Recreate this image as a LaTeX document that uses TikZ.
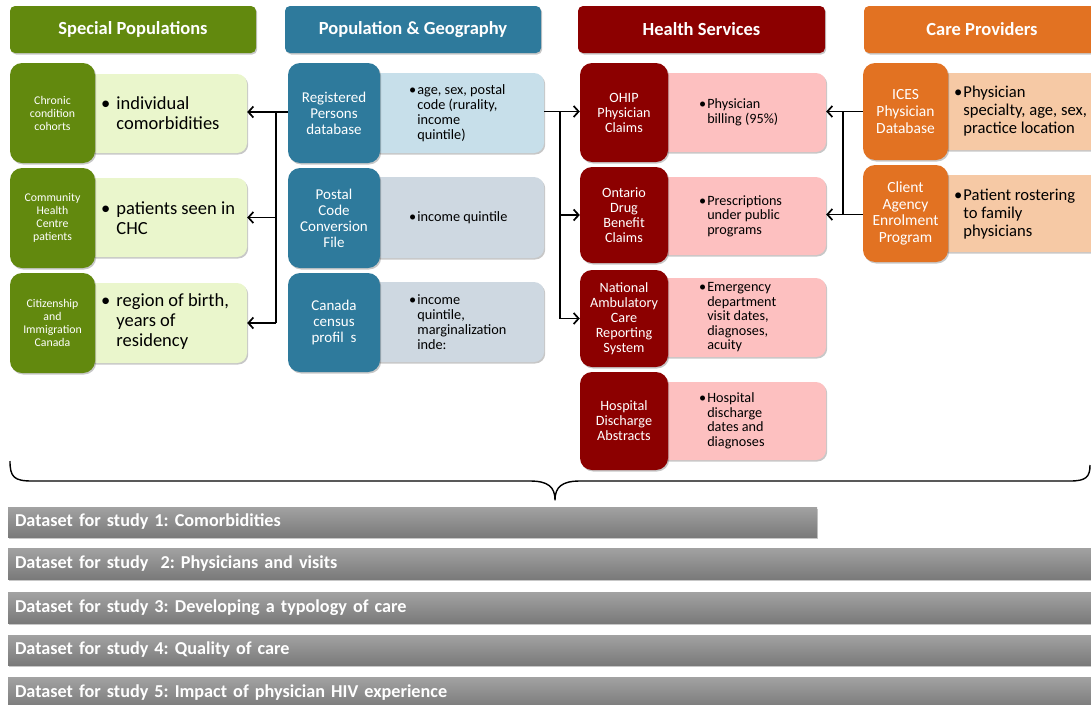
\documentclass[tikz,border=0pt]{standalone}
\usepackage{fontspec}
\setmainfont{Carlito}
\usetikzlibrary{arrows.meta,shadows}
\definecolor{spdark}{RGB}{98,137,14}
\definecolor{splight}{RGB}{234,246,204}
\definecolor{pgdark}{RGB}{46,122,156}
\definecolor{pglightA}{RGB}{199,223,234}
\definecolor{pglightB}{RGB}{206,216,225}
\definecolor{hsdark}{RGB}{140,0,0}
\definecolor{hslight}{RGB}{253,192,192}
\definecolor{cpdark}{RGB}{226,114,34}
\definecolor{cplight}{RGB}{246,201,165}
\definecolor{bartop}{RGB}{162,162,162}
\definecolor{barbot}{RGB}{122,122,122}
\newcommand\bul[3]{\textbullet\hspace{#1}\parbox[t]{#2}{\raggedright #3}}
\frenchspacing
\begin{document}
\frenchspacing
\begin{tikzpicture}[x=1pt,y=-1pt,
  shd/.style={drop shadow={shadow xshift=1.2pt,shadow yshift=-1.5pt,opacity=0.22,fill=black}},
  hdr/.style={rounded corners=5pt,text=white,font=\fontsize{18.5}{21}\selectfont\bfseries,inner sep=0pt,minimum height=47pt,shd},
  dk/.style={rounded corners=12pt,text=white,align=center,inner sep=0pt,shd},
  lt/.style={rounded corners=10pt,inner sep=0pt,shd},
  txt/.style={anchor=west,inner sep=0pt,align=left},
  conn/.style={line width=1.7pt,draw=black},
  arr/.style={conn,-{Straight Barb[length=5pt,width=11pt]}},
  bar/.style={top color=bartop,bottom color=barbot,draw=none,inner sep=0pt,inner xsep=7pt,
     text=white,font=\fontsize{18.2}{20}\selectfont\bfseries\frenchspacing,align=left,shd},
  f1/.style={font=\fontsize{11.8}{13}\selectfont},
  f2/.style={font=\fontsize{15}{16}\selectfont},
  f3/.style={font=\fontsize{14.2}{15}\selectfont},
  f4/.style={font=\fontsize{15.5}{16.8}\selectfont}
]
\useasboundingbox (0,0) rectangle (1091,704);
\clip (0,0) rectangle (1091,704);

% headers
\node[hdr,fill=spdark,minimum width=246pt] (hsp) at (133,29.5) {Special Populations};
\node[hdr,fill=pgdark,minimum width=256pt] (hpg) at (413,29.5) {Population \& Geography};
\node[hdr,fill=hsdark,minimum width=247pt] (hhs) at (701.5,29.5) {Health Services};
\node[hdr,fill=cpdark,minimum width=236pt] (hcp) at (982,29.5) {Care Providers};

% column 1 light
\node[lt,fill=splight,minimum width=162pt,minimum height=79pt] (sl1) at (166,113.5) {};
\node[lt,fill=splight,minimum width=162pt,minimum height=79pt] (sl2) at (166,217.5) {};
\node[lt,fill=splight,minimum width=162pt,minimum height=80pt] (sl3) at (166,323) {};
% column 1 dark
\node[dk,fill=spdark,f1,minimum width=85pt,minimum height=100pt] (sd1) at (52.5,113) {Chronic\\condition\\cohorts};
\node[dk,fill=spdark,f1,minimum width=85pt,minimum height=100pt] (sd2) at (52.5,218) {Community\\Health\\Centre\\patients};
\node[dk,fill=spdark,f1,minimum width=85pt,minimum height=100pt] (sd3) at (52.5,323) {Citizenship\\and\\Immigration\\Canada};
\begin{scope}[font=\fontsize{18.5}{20}\selectfont]
\node[txt] (st1) at (101,113.5) {\bul{6pt}{130pt}{individual\\comorbidities}};
\node[txt] (st2) at (101,218) {\bul{6pt}{130pt}{patients seen in\\CHC}};
\node[txt] (st3) at (101,322) {\bul{6pt}{130pt}{region of birth,\\years of\\residency}};
\end{scope}

% column 2 light
\node[lt,fill=pglightA,minimum width=174pt,minimum height=80pt] (pl1) at (457,113) {};
\node[lt,fill=pglightB,minimum width=174pt,minimum height=81pt] (pl2) at (457,217.5) {};
\node[lt,fill=pglightB,minimum width=174pt,minimum height=80pt] (pl3) at (457,322) {};
% column 2 dark
\node[dk,fill=pgdark,f2,minimum width=92pt,minimum height=100pt] (pd1) at (334,113) {Registered\\Persons\\database};
\node[dk,fill=pgdark,f2,minimum width=92pt,minimum height=100pt] (pd2) at (334,218) {Postal\\Code\\Conversion\\File};
\node[dk,fill=pgdark,f2,minimum width=92pt,minimum height=99pt] (pd3) at (334,322.5) {Canada\\census\\profil\ \ s};
\begin{scope}[font=\fontsize{14.3}{15}\selectfont]
\node[txt] (pt1) at (409,113) {\bul{1pt}{120pt}{age, sex, postal\\code (rurality,\\income\\quintile)}};
\node[txt] (pt2) at (409,217.5) {\bul{1pt}{120pt}{income quintile}};
\node[txt] (pt3) at (409,322) {\bul{1pt}{120pt}{income\\quintile,\\marginalization\\inde:}};
\end{scope}

% column 3 light
\node[lt,fill=hslight,minimum width=168pt,minimum height=79pt] (hl1) at (742,112.5) {};
\node[lt,fill=hslight,minimum width=168pt,minimum height=78pt] (hl2) at (742,216) {};
\node[lt,fill=hslight,minimum width=168pt,minimum height=79pt] (hl3) at (742,317.5) {};
\node[lt,fill=hslight,minimum width=168pt,minimum height=78pt] (hl4) at (742,421) {};
% column 3 dark
\node[dk,fill=hsdark,f3,minimum width=88pt,minimum height=99pt] (hd1) at (624,112.5) {OHIP\\Physician\\Claims};
\node[dk,fill=hsdark,f3,minimum width=88pt,minimum height=96pt] (hd2) at (624,215) {Ontario\\Drug\\Benefit\\Claims};
\node[dk,fill=hsdark,f3,minimum width=88pt,minimum height=97pt] (hd3) at (624,318.5) {National\\Ambulatory\\Care\\Reporting\\System};
\node[dk,fill=hsdark,f3,minimum width=88pt,minimum height=98pt] (hd4) at (624,421) {Hospital\\Discharge\\Abstracts};
\begin{scope}[font=\fontsize{14.2}{14.5}\selectfont]
\node[txt] (ht1) at (699,112.5) {\bul{1pt}{115pt}{Physician\\billing (95\%)}};
\node[txt] (ht2) at (699,216) {\bul{1pt}{115pt}{Prescriptions\\under public\\programs}};
\node[txt] (ht3) at (699,317.5) {\bul{1pt}{115pt}{Emergency\\department\\visit dates,\\diagnoses,\\acuity}};
\node[txt] (ht4) at (699,421) {\bul{1pt}{115pt}{Hospital\\discharge\\dates and\\diagnoses}};
\end{scope}

% column 4 light
\node[lt,fill=cplight,minimum width=162pt,minimum height=77pt] (cl1) at (1019,111.5) {};
\node[lt,fill=cplight,minimum width=162pt,minimum height=77pt] (cl2) at (1019,213.5) {};
% column 4 dark
\node[dk,fill=cpdark,f4,minimum width=85pt,minimum height=97pt] (cd1) at (905.5,111.5) {ICES\\Physician\\Database};
\node[dk,fill=cpdark,f4,minimum width=85pt,minimum height=97pt] (cd2) at (905.5,213.5) {Client\\Agency\\Enrolment\\Program};
\begin{scope}[font=\fontsize{16.6}{18}\selectfont]
\node[txt] (ct1) at (954,111.5) {\bul{1pt}{160pt}{Physician\\specialty, age, sex,\\practice location}};
\node[txt] (ct2) at (954,214.5) {\bul{1pt}{160pt}{Patient rostering\\to family\\physicians}};
\end{scope}

% connectors: Registered Persons -> special populations
\coordinate (jl) at (276,112);
\draw[conn] (pd1.west |- jl) -- (jl);
\draw[conn] (jl) -- (jl |- sl3.east);
\draw[arr] (jl) -- (sl1.east |- jl);
\draw[arr] (jl |- sl2.east) -- (sl2.east);
\draw[arr] (jl |- sl3.east) -- (sl3.east);

% Registered Persons -> health services
\coordinate (jr) at (560,111.5);
\draw[conn] (pl1.east |- jr) -- (jr);
\draw[conn] (jr) -- (jr |- hd3.west);
\draw[arr] (jr) -- (hd1.west |- jr);
\draw[arr] (jr |- hd2.west) -- (hd2.west);
\draw[arr] (jr |- hd3.west) -- (hd3.west);

% care providers -> health services
\coordinate (jc1) at (843,111.5);
\coordinate (jc2) at (843,214.5);
\draw[conn] (cd1.west |- jc1) -- (jc1);
\draw[conn] (cd2.west |- jc2) -- (jc2);
\draw[conn] (jc1) -- (jc2);
\draw[arr] (jc1) -- (hl1.east |- jc1);
\draw[arr] (jc2) -- (hl2.east |- jc2);

% brace
\draw[line width=1.4pt,line join=round]
  (10,461) .. controls (10,477) and (14,481) .. (32,481) -- (530,481)
  .. controls (548,481) and (555,487) .. (555,500)
  .. controls (555,487) and (562,481) .. (580,481) -- (1070,481)
  .. controls (1086,481) and (1090,477) .. (1090,465);

% dataset bars
\node[bar,text width=795pt,minimum height=30pt] (b1) at (412.5,522) {Dataset for study 1: Comorbidities};
\node[bar,text width=1078pt,minimum height=31pt] (b2) at (554,563.5) {Dataset for study\ \ 2: Physicians and visits};
\node[bar,text width=1078pt,minimum height=31pt] (b3) at (554,607.5) {Dataset for study 3: Developing a typology of care};
\node[bar,text width=1078pt,minimum height=30pt] (b4) at (554,650) {Dataset for study 4: Quality of care};
\node[bar,text width=1078pt,minimum height=31pt] (b5) at (554,692.5) {Dataset for study 5: Impact of physician HIV experience};
\end{tikzpicture}
\end{document}
